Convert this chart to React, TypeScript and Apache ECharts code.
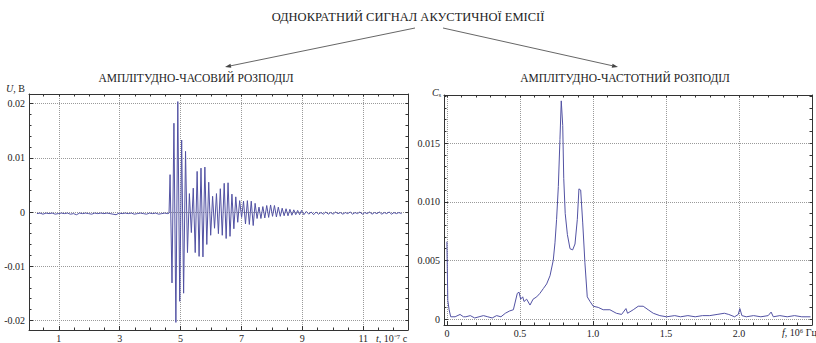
import React, { useEffect, useRef } from "react";
import * as echarts from "echarts";

const mainTitle = "ОДНОКРАТНИЙ СИГНАЛ АКУСТИЧНОЇ ЕМІСІЇ";
const leftTitle = "АМПЛІТУДНО-ЧАСОВИЙ РОЗПОДІЛ";
const rightTitle = "АМПЛІТУДНО-ЧАСТОТНИЙ РОЗПОДІЛ";

// tick labels
const timeTicks = [1, 3, 5, 7, 9, 11];
const voltTicks = [-0.02, -0.01, 0, 0.01, 0.02];
const freqTicks = [0, 0.5, 1, 1.5, 2];
const ampTicks = [0, 0.005, 0.01, 0.015];

// time signal, t in 10^-7 s, U in V
const preTrigger: [number, number][] = [
  [0.28, -0.0003], [0.38, -0.0002], [0.48, -0.0004], [0.58, -0.0002], [0.68, -0.0003],
  [0.78, -0.0002], [0.88, -0.0004], [0.98, -0.0003], [1.08, -0.0002], [1.18, -0.0003],
  [1.28, -0.0002], [1.38, -0.0004], [1.48, -0.0003], [1.58, -0.0005], [1.68, -0.0002],
  [1.78, -0.0003], [1.88, -0.0002], [1.98, -0.0003], [2.08, -0.0004], [2.18, -0.0002],
  [2.28, -0.0003], [2.38, -0.0002], [2.48, -0.0003], [2.58, -0.0002], [2.68, -0.0003],
  [2.78, -0.0004], [2.88, -0.0005], [2.98, -0.0002], [3.08, -0.0003], [3.18, -0.0002],
  [3.28, -0.0003], [3.38, -0.0002], [3.48, -0.0004], [3.58, -0.0003], [3.68, -0.0002],
  [3.78, -0.0003], [3.88, -0.0004], [3.98, -0.0002], [4.08, -0.0003], [4.18, -0.0002],
  [4.28, -0.0004], [4.38, -0.0003], [4.48, -0.0002], [4.58, -0.0003], [4.62, -0.0002],
];

const burst: [number, number][] = [
  [4.654, 0.0069], [4.718, -0.0131], [4.781, 0.0164], [4.845, -0.0204], [4.908, 0.0204],
  [4.972, -0.0165], [5.035, 0.0133], [5.099, -0.015], [5.162, 0.0112], [5.226, -0.0075],
  [5.289, 0.0034], [5.353, -0.0038], [5.416, 0.0044], [5.48, -0.0075], [5.543, 0.0075],
  [5.607, -0.0082], [5.67, 0.0081], [5.734, -0.0083], [5.797, 0.0083], [5.861, -0.006],
  [5.924, 0.0055], [5.988, -0.0043], [6.051, 0.0029], [6.115, -0.003], [6.178, 0.0034],
  [6.242, -0.004], [6.305, 0.0043], [6.369, -0.0043], [6.432, 0.0053], [6.496, -0.0049],
  [6.559, 0.0054], [6.623, -0.0045], [6.686, 0.0033], [6.75, -0.0031], [6.813, 0.0028],
  [6.877, -0.0019], [6.94, 0.0021], [7.004, -0.001], [7.067, 0.002], [7.131, -0.0022],
  [7.194, 0.0021], [7.258, -0.0023], [7.321, 0.002], [7.385, -0.0025], [7.448, 0.0016],
  [7.512, -0.0012], [7.575, 0.0009], [7.639, -0.0012], [7.702, 0.001], [7.766, -0.0011],
  [7.829, 0.0012], [7.893, -0.001], [7.956, 0.0013], [8.02, -0.0008], [8.083, 0.0012],
  [8.147, -0.0009], [8.21, 0.0009], [8.274, -0.0008], [8.337, 0.0007], [8.401, -0.0007],
  [8.464, 0.0006], [8.528, -0.0007], [8.591, 0.0005], [8.655, -0.0006], [8.718, 0.0004],
  [8.782, -0.0005], [8.845, 0.0003], [8.909, -0.0005], [8.972, 0.0003],
];

const tail: [number, number][] = [
  [9.05, -0.0005], [9.13, 0.0001], [9.21, -0.0004], [9.29, 0.0], [9.37, -0.0005],
  [9.45, 0.0], [9.53, -0.0004], [9.61, -0.0001], [9.69, -0.0004], [9.77, 0.0],
  [9.85, -0.0004], [9.93, -0.0001], [10.01, -0.0004], [10.09, 0.0], [10.17, -0.0003],
  [10.25, -0.0001], [10.33, -0.0004], [10.41, -0.0001], [10.49, -0.0003], [10.57, 0.0],
  [10.65, -0.0004], [10.73, -0.0001], [10.81, -0.0003], [10.89, 0.0], [10.97, -0.0004],
  [11.05, -0.0001], [11.13, -0.0003], [11.21, 0.0], [11.29, -0.0004], [11.37, -0.0001],
  [11.45, -0.0003], [11.53, 0.0], [11.61, -0.0004], [11.69, -0.0001], [11.77, -0.0003],
  [11.85, 0.0], [11.93, -0.0004], [12.01, -0.0001], [12.09, -0.0003], [12.17, -0.0001],
  [12.26, -0.0003],
];

// spectrum, f in 10^6 Hz
const spectrum: [number, number][] = [
  [0.0, 0.0066], [0.006, 0.0016], [0.015, 0.0008], [0.026, 0.0002], [0.056, 0.0002],
  [0.09, 0.0004], [0.113, 0.0002], [0.13, 0.0002], [0.16, 0.0003], [0.19, 0.0001],
  [0.22, 0.0002], [0.25, 0.0003], [0.28, 0.0002], [0.31, 0.0001], [0.34, 0.0003],
  [0.37, 0.0002], [0.4, 0.0005], [0.43, 0.0007], [0.455, 0.0008], [0.482, 0.0022],
  [0.494, 0.0023], [0.505, 0.0017], [0.519, 0.0019], [0.528, 0.0015], [0.546, 0.0017],
  [0.569, 0.0012], [0.59, 0.0017], [0.615, 0.0019], [0.637, 0.0022], [0.66, 0.0026],
  [0.683, 0.003], [0.706, 0.0037], [0.728, 0.005], [0.74, 0.0065], [0.751, 0.0085],
  [0.763, 0.0113], [0.774, 0.0153], [0.783, 0.0186], [0.793, 0.0165], [0.8, 0.012],
  [0.81, 0.009], [0.825, 0.0072], [0.843, 0.006], [0.861, 0.0059], [0.877, 0.0064],
  [0.893, 0.0085], [0.904, 0.0111], [0.916, 0.011], [0.93, 0.0082], [0.945, 0.0048],
  [0.961, 0.0019], [0.98, 0.0015], [1.002, 0.0011], [1.036, 0.001], [1.07, 0.0008],
  [1.116, 0.0008], [1.16, 0.0005], [1.196, 0.0004], [1.226, 0.0009], [1.237, 0.0005],
  [1.276, 0.0008], [1.31, 0.0011], [1.344, 0.0011], [1.378, 0.0008], [1.413, 0.0005],
  [1.458, 0.0003], [1.504, 0.0002], [1.56, 0.0003], [1.6, 0.0002], [1.65, 0.0003],
  [1.7, 0.0002], [1.75, 0.0003], [1.8, 0.0003], [1.85, 0.0004], [1.9, 0.0005],
  [1.93, 0.0004], [1.97, 0.0002], [1.995, 0.0004], [2.006, 0.0009], [2.02, 0.0003],
  [2.05, 0.0002], [2.1, 0.0003], [2.15, 0.0002], [2.2, 0.0003], [2.22, 0.0006],
  [2.235, 0.0002], [2.28, 0.0003], [2.33, 0.0002], [2.38, 0.0003], [2.43, 0.0002],
  [2.49, 0.0002],
];

const FONT = "'Liberation Serif', 'Times New Roman', serif";
const INK = "#222";
const FRAME = "#333";
const CURVE = "#5252a3";

function steps(from: number, to: number, step: number, dec: number): number[] {
  const out: number[] = [];
  const n = Math.round((to - from) / step);
  for (let i = 0; i <= n; i++) out.push(Number((from + i * step).toFixed(dec)));
  return out;
}

const frameLine = { show: true, onZero: false, lineStyle: { color: FRAME, width: 1 } };
const labelStyle = { color: INK, fontFamily: FONT, fontSize: 10 };
const gridLine = { show: true, lineStyle: { color: "#9a9a9a", type: "dotted" as const, width: 1 } };

function axisSet(
  kind: "x" | "y",
  gridIndex: number,
  min: number,
  max: number,
  majors: number[],
  minors: number[],
  fmt: (v: number) => string,
  margin: number
) {
  const main = {
    type: "value",
    gridIndex,
    min,
    max,
    position: kind === "x" ? "bottom" : "left",
    axisLine: frameLine,
    axisTick: { show: true, inside: true, length: 4, customValues: majors, lineStyle: { color: FRAME } },
    axisLabel: { show: true, customValues: majors, formatter: fmt, margin, ...labelStyle },
    splitLine: gridLine,
  };
  const minorSame = {
    type: "value",
    gridIndex,
    min,
    max,
    position: kind === "x" ? "bottom" : "left",
    axisLine: { show: false, onZero: false },
    axisTick: { show: true, inside: true, length: 2.5, customValues: minors, lineStyle: { color: FRAME } },
    axisLabel: { show: false },
    splitLine: { show: false },
  };
  const mirror = {
    type: "value",
    gridIndex,
    min,
    max,
    position: kind === "x" ? "top" : "right",
    axisLine: frameLine,
    axisTick: { show: true, inside: true, length: 2.5, customValues: minors, lineStyle: { color: FRAME } },
    axisLabel: { show: false },
    splitLine: { show: false },
  };
  return [main, minorSame, mirror];
}

function arrow(x1: number, y1: number, x2: number, y2: number) {
  const dx = x2 - x1;
  const dy = y2 - y1;
  const L = Math.hypot(dx, dy);
  const ux = dx / L;
  const uy = dy / L;
  const bx = x2 - 6 * ux;
  const by = y2 - 6 * uy;
  const nx = -uy;
  const ny = ux;
  return [
    { type: "line", shape: { x1, y1, x2: bx, y2: by }, style: { stroke: "#555", lineWidth: 0.9 } },
    {
      type: "polygon",
      shape: { points: [[x2, y2], [bx + 2 * nx, by + 2 * ny], [bx - 2 * nx, by - 2 * ny]] },
      style: { fill: "#444" },
    },
  ];
}

export default function App() {
  const ref = useRef<HTMLDivElement>(null);
  useEffect(() => {
    if (!ref.current) return;
    const chart = echarts.init(ref.current, null, { renderer: "svg" });

    const leftX = axisSet("x", 0, 0.02, 12.47, timeTicks, steps(0.5, 12, 0.5, 1), (v) => String(v), 3);
    const leftY = axisSet("y", 0, -0.0218, 0.0218, voltTicks, steps(-0.02, 0.02, 0.002, 3),
      (v) => (Math.abs(v) < 1e-9 ? "0" : v.toFixed(2)), 4);
    const rightX = axisSet("x", 1, -0.02, 2.5, freqTicks, steps(0, 2.4, 0.1, 1),
      (v) => (Math.abs(v) < 1e-9 ? "0" : v.toFixed(1)), 3);
    const rightY = axisSet("y", 1, -0.0005, 0.0191, ampTicks, steps(0, 0.019, 0.001, 3),
      (v) => (Math.abs(v) < 1e-9 ? "0" : v.toFixed(3)), 4);

    const signal = [...preTrigger, ...burst, ...tail];

    const headStyle = (size: number) => ({
      fill: INK,
      fontFamily: FONT,
      fontSize: size,
      textAlign: "center",
      textVerticalAlign: "middle",
    });

    chart.setOption({
      animation: false,
      backgroundColor: "#ffffff",
      grid: [
        { left: 29, top: 94, width: 379, height: 236, outerBoundsMode: "none", containLabel: false },
        { left: 444, top: 95, width: 368, height: 230, outerBoundsMode: "none", containLabel: false },
      ],
      xAxis: [...leftX, ...rightX],
      yAxis: [...leftY, ...rightY],
      series: [
        {
          type: "line",
          xAxisIndex: 0,
          yAxisIndex: 0,
          data: signal,
          showSymbol: false,
          symbol: "none",
          lineStyle: { color: CURVE, width: 1 },
          z: 5,
        },
        {
          type: "line",
          xAxisIndex: 3,
          yAxisIndex: 3,
          data: spectrum,
          showSymbol: false,
          symbol: "none",
          lineStyle: { color: CURVE, width: 1 },
          z: 5,
        },
      ],
      graphic: [
        { type: "text", x: 408, y: 17, style: { text: mainTitle, ...headStyle(12.5) } },
        { type: "text", x: 196, y: 78, style: { text: leftTitle, ...headStyle(11.5) } },
        { type: "text", x: 625, y: 78, style: { text: rightTitle, ...headStyle(11.5) } },
        ...arrow(415, 28, 225, 67),
        ...arrow(443, 28, 618, 67),
        {
          type: "text",
          x: 6,
          y: 88,
          style: {
            text: "{i|U}{n|, В}",
            textVerticalAlign: "middle",
            rich: {
              i: { fontFamily: FONT, fontStyle: "italic", fontSize: 10, fill: INK },
              n: { fontFamily: FONT, fontSize: 10, fill: INK },
            },
          },
        },
        {
          type: "text",
          x: 432,
          y: 92,
          style: {
            text: "{i|C}{s|s}",
            textVerticalAlign: "middle",
            rich: {
              i: { fontFamily: FONT, fontStyle: "italic", fontSize: 10, fill: INK },
              s: { fontFamily: FONT, fontSize: 6, fill: INK, padding: [5, 0, 0, 0] },
            },
          },
        },
        {
          type: "text",
          x: 376,
          y: 338,
          style: {
            text: "{i|t}{n|, 10⁻⁷ с}",
            textVerticalAlign: "middle",
            rich: {
              i: { fontFamily: FONT, fontStyle: "italic", fontSize: 10, fill: INK },
              n: { fontFamily: FONT, fontSize: 10, fill: INK },
            },
          },
        },
        {
          type: "text",
          x: 782,
          y: 332,
          style: {
            text: "{i|f}{n|, 10⁶ Гц}",
            textVerticalAlign: "middle",
            rich: {
              i: { fontFamily: FONT, fontStyle: "italic", fontSize: 10, fill: INK },
              n: { fontFamily: FONT, fontSize: 10, fill: INK },
            },
          },
        },
      ],
    });
    return () => chart.dispose();
  }, []);
  return (
    <div
      ref={ref}
      style={{ position: "fixed", left: 0, top: 0, width: 816, height: 343, background: "#fff" }}
    />
  );
}
